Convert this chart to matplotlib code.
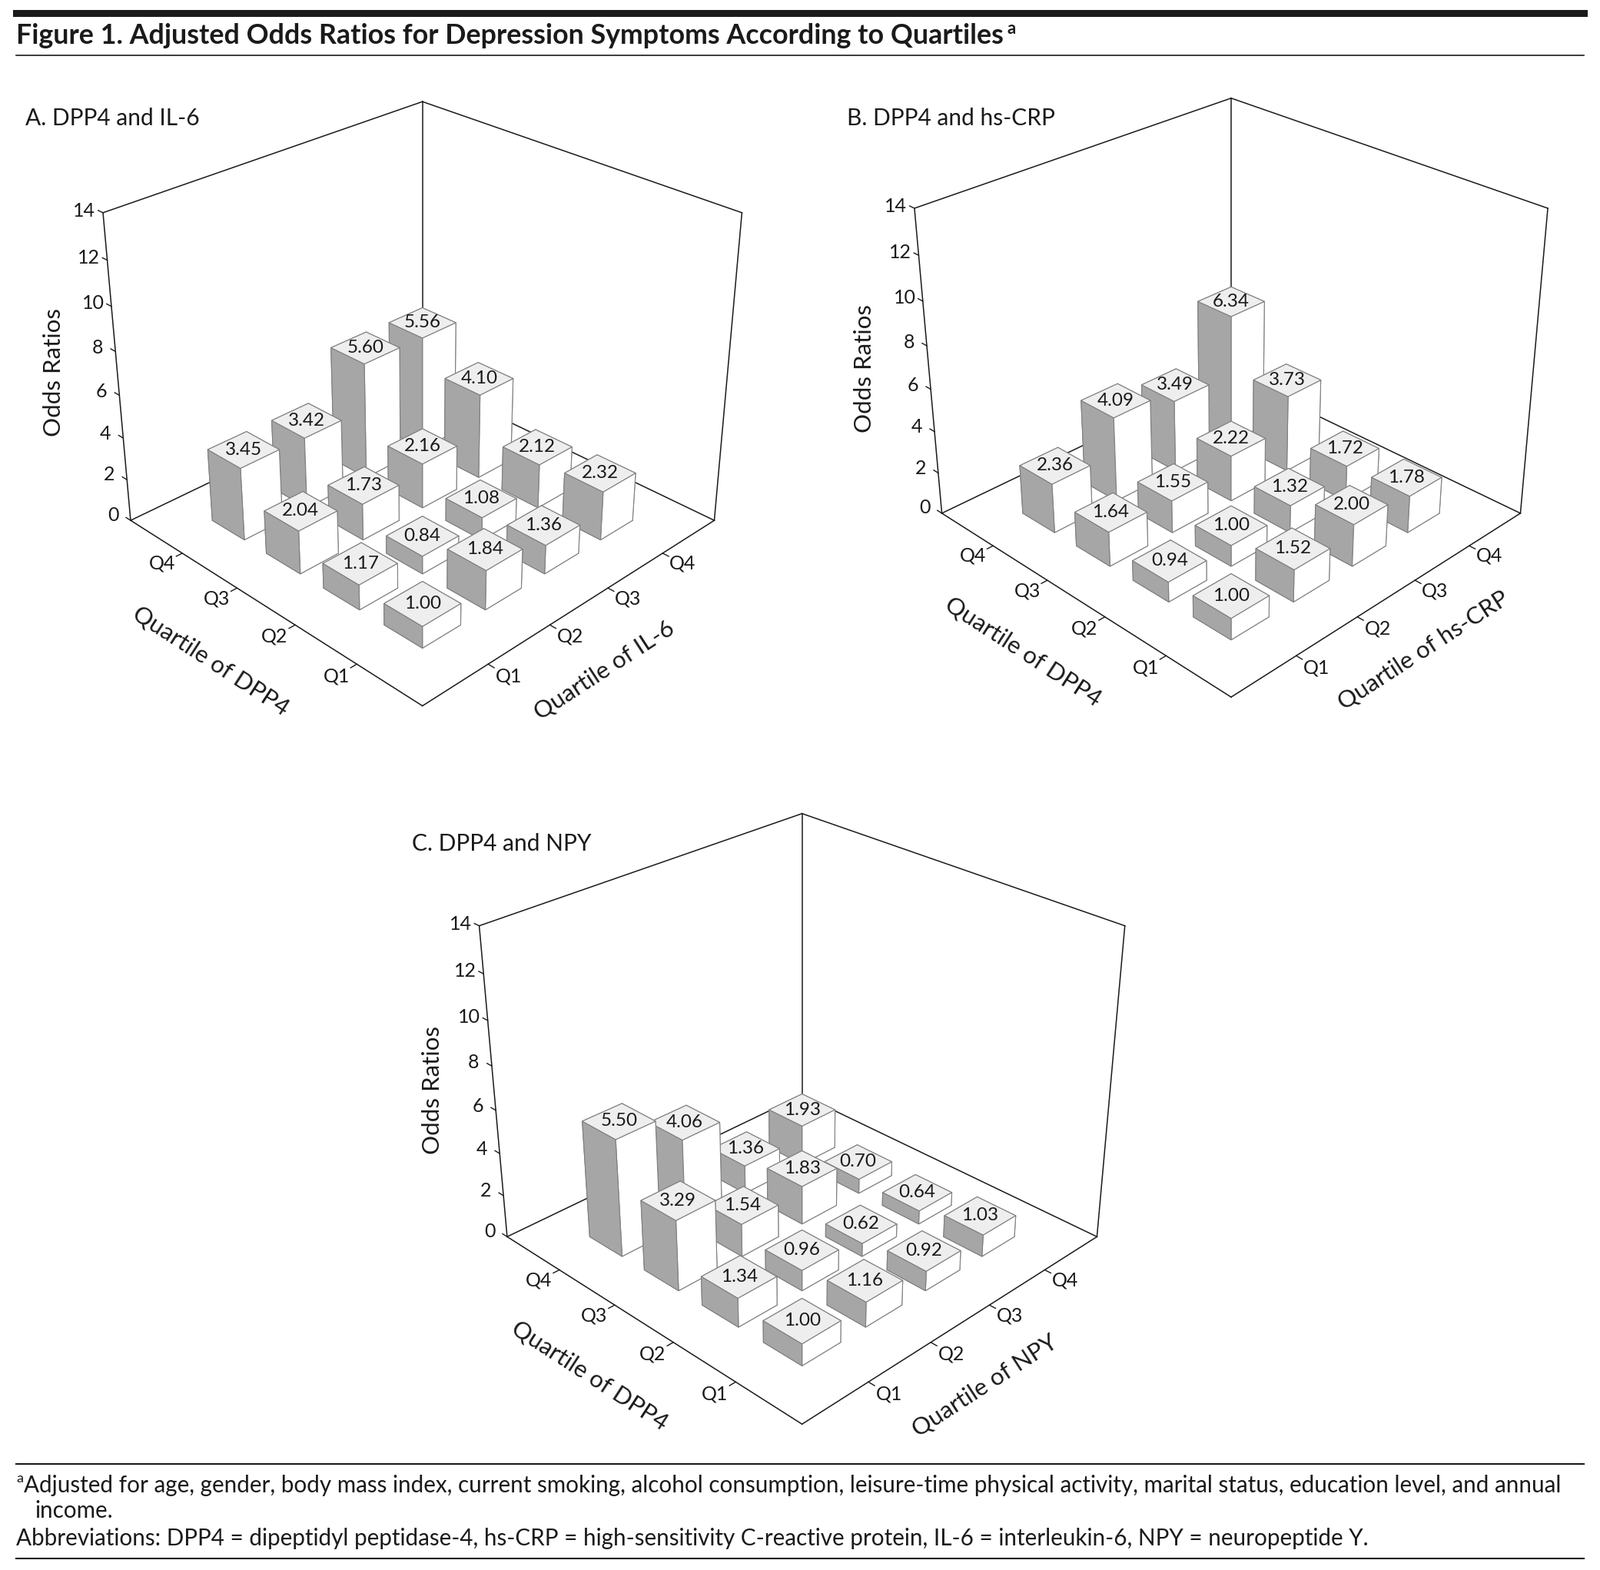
import matplotlib
matplotlib.use("Agg")
import matplotlib.pyplot as plt
from matplotlib.lines import Line2D
from mpl_toolkits.mplot3d import proj3d

plt.rcParams["font.family"] = ["Lato", "DejaVu Sans"]

W, H = 2082, 2043
S = W / 1568  # the coordinates below

quartiles = ["Q1", "Q2", "Q3", "Q4"]
z_ticks = [0, 2, 4, 6, 8, 10, 12, 14]

# rows = DPP4 quartile, columns = quartile of the other marker
il6_values = [[1.00, 1.84, 1.36, 2.32],
              [1.17, 0.84, 1.08, 2.12],
              [2.04, 1.73, 2.16, 4.10],
              [3.45, 3.42, 5.60, 5.56]]
crp_values = [[1.00, 1.52, 2.00, 1.78],
              [0.94, 1.00, 1.32, 1.72],
              [1.64, 1.55, 2.22, 3.73],
              [2.36, 4.09, 3.49, 6.34]]
npy_values = [[1.00, 1.16, 0.92, 1.03],
              [1.34, 0.96, 0.62, 0.64],
              [3.29, 1.54, 1.83, 0.70],
              [5.50, 4.06, 1.36, 1.93]]

title = "Figure 1. Adjusted Odds Ratios for Depression Symptoms According to Quartiles"
note1 = "Adjusted for age, gender, body mass index, current smoking, alcohol consumption, leisure-time physical activity, marital status, education level, and annual"
note2 = "income."
note3 = "Abbreviations: DPP4 = dipeptidyl peptidase-4, hs-CRP = high-sensitivity C-reactive protein, IL-6 = interleukin-6, NPY = neuropeptide Y."


def fx(x):
    return x * S / W


def fy(y):
    return 1 - y * S / H


def put_text(fig, x, y, s, **kw):
    kw.setdefault("color", "#1a1a1a")
    fig.text(fx(x), fy(y), s, **kw)


def rule(fig, y, lw):
    fig.add_artist(Line2D([fx(16), fx(1552)], [fy(y), fy(y)], color="#1a1a1a", lw=lw))


def panel(fig, values, name, other, name_xy, left, right, floor_y, ylabel_xy, dpp_xy, other_xy):
    ax = fig.add_axes([0.3, 0.3, 0.4, 0.4 * W / H], projection="3d", computed_zorder=False)
    ax.set_proj_type("persp", focal_length=0.5)
    ax.view_init(elev=28.5, azim=225)
    ax.set_box_aspect((1, 1, 0.81))
    ax.set_xlim(0, 5, view_margin=0)
    ax.set_ylim(0, 5, view_margin=0)
    ax.set_zlim(0, 14, view_margin=0)
    ax.set_axis_off()
    ax.patch.set_visible(False)

    # slide and scale the axes so that the floor corners land where they should
    ax.apply_aspect()
    ax.M = ax.get_proj()
    pts = []
    for p in [(0, 5, 0), (5, 0, 0)]:
        x2, y2, _ = proj3d.proj_transform(p[0], p[1], p[2], ax.M)
        pts.append(ax.transData.transform((x2, y2)))
    pos = ax.get_position()
    scale = (right - left) * S / (pts[1][0] - pts[0][0])
    cx = (pos.x0 + pos.x1) / 2 * W
    cy = (pos.y0 + pos.y1) / 2 * H
    new_cx = (left + right) / 2 * S + (cx - (pts[0][0] + pts[1][0]) / 2) * scale
    new_cy = (H - floor_y * S) + (cy - (pts[0][1] + pts[1][1]) / 2) * scale
    w = pos.width * W * scale
    h = pos.height * H * scale
    ax.set_position([(new_cx - w / 2) / W, (new_cy - h / 2) / H, w / W, h / H])

    # box edges
    frame = [((0, 0, 0), (5, 0, 0)), ((0, 0, 0), (0, 5, 0)), ((5, 0, 0), (5, 5, 0)),
             ((0, 5, 0), (5, 5, 0)), ((5, 5, 0), (5, 5, 14)), ((0, 5, 0), (0, 5, 14)),
             ((5, 0, 0), (5, 0, 14)), ((5, 5, 14), (0, 5, 14)), ((5, 5, 14), (5, 0, 14))]
    for a, b in frame:
        ax.plot([a[0], b[0]], [a[1], b[1]], [a[2], b[2]], color="#1a1a1a", lw=1.1, zorder=1)

    for z in z_ticks:
        ax.plot([0, 0], [5, 5.09], [z, z], color="#1a1a1a", lw=1.0, zorder=1)
        ax.text(0, 5.36, z - 0.3, str(z), fontsize=18, ha="center", va="center", color="#1a1a1a", zorder=1)
    for i, q in enumerate(quartiles):
        ax.plot([0, -0.09], [i + 1, i + 1], [0, 0], color="#1a1a1a", lw=1.0, zorder=1)
        ax.plot([i + 1, i + 1], [0, -0.09], [0, 0], color="#1a1a1a", lw=1.0, zorder=1)
        ax.text(-0.3, i + 1, 0, q, fontsize=18, ha="center", va="center", color="#1a1a1a", zorder=1)
        ax.text(i + 1, -0.3, 0, q, fontsize=18, ha="center", va="center", color="#1a1a1a", zorder=1)

    # bars back to front so the near ones cover the far ones
    order = sorted(((i, j) for i in range(4) for j in range(4)), key=lambda c: -(c[0] + c[1]))
    for k, (i, j) in enumerate(order):
        v = values[i][j]
        ax.bar3d(j + 1 - 0.3, i + 1 - 0.3, 0, 0.6, 0.6, v,
                 color=["white", "#eeeeee", "white", "white", "#a6a6a6", "white"],
                 edgecolor="#7f7f7f", linewidth=0.8, shade=False, zorder=10 + 2 * k)
        ax.text(j + 1, i + 1, v, f"{v:.2f}", fontsize=17.5, ha="center", va="center",
                color="#1a1a1a", zorder=11 + 2 * k)

    put_text(fig, name_xy[0], name_xy[1], name, fontsize=21.5, va="center")
    put_text(fig, ylabel_xy[0], ylabel_xy[1], "Odds Ratios", fontsize=22.5, rotation=90, ha="center", va="center")
    put_text(fig, dpp_xy[0], dpp_xy[1], "Quartile of DPP4", fontsize=22.5, rotation=-33,
             ha="center", va="center", rotation_mode="anchor")
    put_text(fig, other_xy[0], other_xy[1], "Quartile of " + other, fontsize=22.5, rotation=33,
             ha="center", va="center", rotation_mode="anchor")


fig = plt.figure(figsize=(W / 100, H / 100), dpi=100)

rule(fig, 12.5, 6.5)
rule(fig, 54, 1.2)
rule(fig, 1435, 1.5)
rule(fig, 1527, 1.5)
put_text(fig, 16, 35, title, fontsize=25.8, fontweight="bold", va="center")
put_text(fig, 987, 28, "a", fontsize=16, fontweight="bold", va="center")

panel(fig, il6_values, "A. DPP4 and IL-6", "IL-6", (25, 116), 128, 700, 510, (53, 365), (207, 648), (592, 657))
panel(fig, crp_values, "B. DPP4 and hs-CRP", "hs-CRP", (830, 116), 923, 1490, 503, (847, 361), (1003, 639), (1395, 637))
panel(fig, npy_values, "C. DPP4 and NPY", "NPY", (404, 827), 497, 1075, 1212, (424, 1068), (578, 1348), (965, 1358))

put_text(fig, 16, 1449, "a", fontsize=13, va="center")
put_text(fig, 23, 1456, note1, fontsize=21.3, va="center")
put_text(fig, 34, 1481, note2, fontsize=21.3, va="center")
put_text(fig, 16, 1508, note3, fontsize=21.3, va="center")

fig.savefig("out.png", dpi=100)
